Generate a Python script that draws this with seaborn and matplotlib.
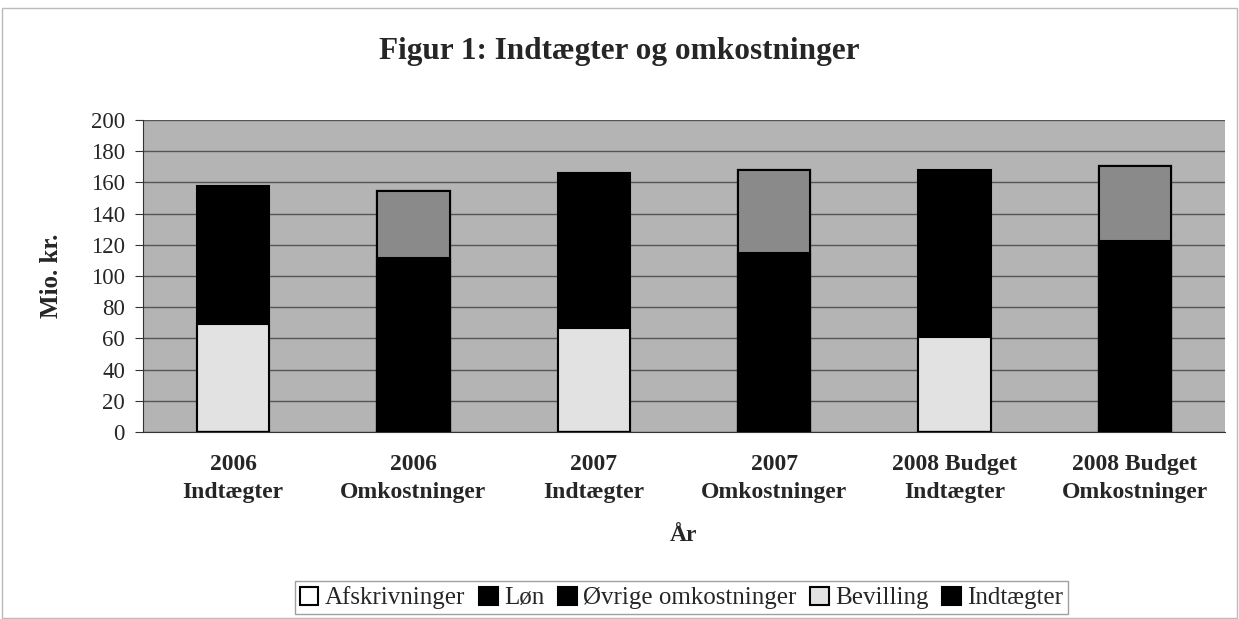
import matplotlib.pyplot as plt
import matplotlib.patches as mpatches
import pandas as pd
import seaborn as sns

# Data (Mio. kr.)
categories = ["2006\nIndtægter", "2006\nOmkostninger", "2007\nIndtægter",
              "2007\nOmkostninger", "2008 Budget\nIndtægter", "2008 Budget\nOmkostninger"]
afskrivninger = [0, 1.5, 0, 1, 0, 1.5]
loen = [0, 110, 0, 114, 0, 121]
oevrige = [0, 43, 0, 53, 0, 48]
bevilling = [69, 0, 67, 0, 61, 0]
indtaegter = [89, 0, 99, 0, 107, 0]

series = ["Afskrivninger", "Løn", "Øvrige omkostninger", "Bevilling", "Indtægter"]
colors = ["#ffffff", "#000000", "#8a8a8a", "#e2e2e2", "#000000"]
legend_colors = ["#ffffff", "#000000", "#000000", "#e2e2e2", "#000000"]

df = pd.DataFrame({"Kategori": categories,
                   "Afskrivninger": afskrivninger,
                   "Løn": loen,
                   "Øvrige omkostninger": oevrige,
                   "Bevilling": bevilling,
                   "Indtægter": indtaegter})
cum = df[series].cumsum(axis=1)

sns.set_style("white")
plt.rcParams["font.family"] = ["Liberation Serif", "DejaVu Serif"]

fig = plt.figure(figsize=(12.39, 6.19), dpi=100)
ax = fig.add_axes([0.1154, 0.302, 0.8733, 0.504])
ax.set_facecolor("#b4b4b4")

# stacked bars: draw cumulative totals from top segment down
for s, c in zip(reversed(series), reversed(colors)):
    sns.barplot(x=df["Kategori"], y=cum[s], color=c, width=0.4,
                edgecolor="black", linewidth=1.5, ax=ax, zorder=3)

ax.set_ylim(0, 200)
ax.set_yticks(range(0, 201, 20))
ax.yaxis.grid(True, color="#555555", linewidth=1.0, zorder=0)
ax.set_axisbelow(True)
for sp in ax.spines.values():
    sp.set_visible(False)
ax.spines["left"].set_visible(True)
ax.spines["left"].set_color("#333333")
ax.spines["bottom"].set_visible(True)
ax.spines["bottom"].set_color("#333333")

ax.tick_params(axis="y", labelsize=16.5, length=6, pad=7, color="#333333", left=True)
ax.tick_params(axis="x", labelsize=17, length=0, pad=16)
for lbl in ax.get_xticklabels():
    lbl.set_fontweight("bold")
    lbl.set_linespacing(1.4)

ax.set_xlabel("År", fontsize=17, fontweight="bold", labelpad=16)
ax.set_ylabel("Mio. kr.", fontsize=18, fontweight="bold", labelpad=20)

fig.suptitle("Figur 1: Indtægter og omkostninger", fontsize=22.5,
             fontweight="bold", y=0.94)

handles = [mpatches.Patch(facecolor=c, edgecolor="black", linewidth=1.5, label=s)
           for s, c in zip(series, legend_colors)]
leg = fig.legend(handles=handles, loc="center", bbox_to_anchor=(0.55, 0.034),
                 ncol=5, fontsize=18, frameon=True, fancybox=False,
                 handlelength=0.75, handleheight=0.75, handletextpad=0.25,
                 columnspacing=0.55, borderpad=0.2)
leg.get_frame().set_edgecolor("#888888")

# outer chart frame
fig.patches.append(mpatches.Rectangle((0.002, 0.002), 0.996, 0.985,
                                      transform=fig.transFigure, fill=False,
                                      edgecolor="#bbbbbb", linewidth=1))

fig.savefig("out.png", dpi=100)
